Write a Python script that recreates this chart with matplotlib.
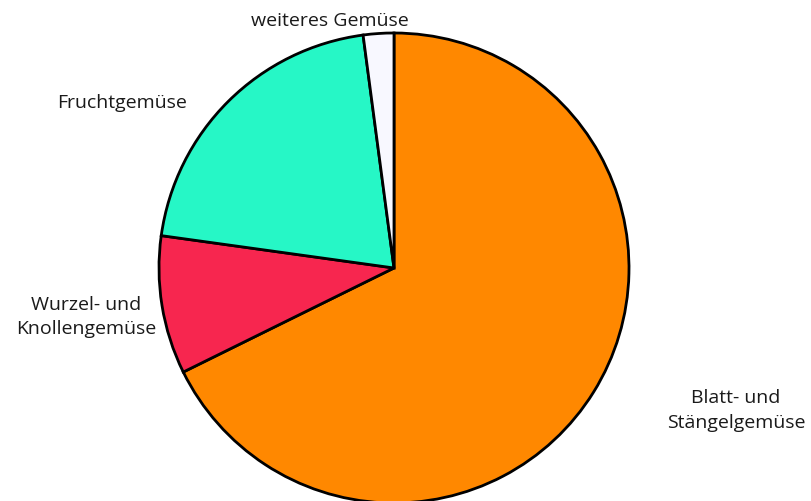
import matplotlib
matplotlib.use("Agg")
import matplotlib.pyplot as plt

categories = ["Blatt- und\nStängelgemüse", "Wurzel- und\nKnollengemüse", "Fruchtgemüse", "weiteres Gemüse"]
values = [67.7, 9.5, 20.7, 2.1]
colors = ["#FF8800", "#F7264F", "#26F7C6", "#F8F8FF"]

W, H = 811, 502
cx, cy, R = 394, 269, 235

fig = plt.figure(figsize=(W / 100, H / 100), dpi=100)
ax = fig.add_axes([0, 0, 1, 1])

ax.pie(values, colors=colors, startangle=90, counterclock=False, radius=1.0,
       wedgeprops=dict(edgecolor="black", linewidth=2))
ax.set_aspect("equal")
ax.set_xlim(-cx / R, (W - cx) / R)
ax.set_ylim(-(H - cy) / R, cy / R)
ax.axis("off")

label_px = [(736, 411), (86, 317), (122, 103), (330, 21)]
for lab, (px, py) in zip(categories, label_px):
    ax.text((px - cx) / R, (cy - py) / R, lab, ha="center", va="center",
            fontsize=14, family="Open Sans", color="#1a1a1a", linespacing=1.5)

fig.savefig("out.png", dpi=100)
